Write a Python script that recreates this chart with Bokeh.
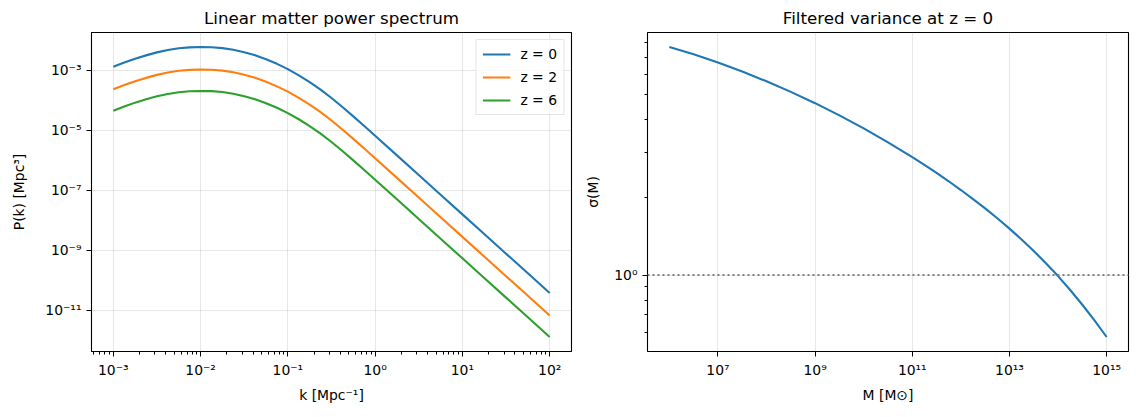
import math

from bokeh.plotting import figure
from bokeh.layouts import row
from bokeh.models import (Range1d, FixedTicker, CustomJSTickFormatter, Span,
                          Legend, LegendItem)
from bokeh.embed import file_html
from bokeh.resources import INLINE

# ---- linear matter power spectrum P(k) [Mpc^3] at three redshifts ----
k = [1.000e-3, 1.334e-3, 1.778e-3, 2.371e-3, 3.162e-3, 4.217e-3, 5.623e-3, 7.499e-3,
     1.000e-2, 1.334e-2, 1.778e-2, 2.371e-2, 3.162e-2, 4.217e-2, 5.623e-2, 7.499e-2,
     1.000e-1, 1.334e-1, 1.778e-1, 2.371e-1, 3.162e-1, 4.217e-1, 5.623e-1, 7.499e-1,
     1.000, 1.778, 3.162, 5.623, 10.0, 17.78, 31.62, 56.23, 100.0]

pk_z0 = [1.288e-3, 1.778e-3, 2.399e-3, 3.090e-3, 3.890e-3, 4.677e-3, 5.309e-3, 5.715e-3,
         5.875e-3, 5.794e-3, 5.395e-3, 4.742e-3, 3.945e-3, 3.097e-3, 2.301e-3, 1.614e-3,
         1.072e-3, 6.699e-4, 3.972e-4, 2.218e-4, 1.172e-4, 5.875e-5, 2.858e-5, 1.371e-5,
         6.486e-6, 1.436e-6, 3.177e-7, 7.031e-8, 1.556e-8, 3.443e-9, 7.621e-10, 1.687e-10,
         3.715e-11]

pk_z2 = [2.290e-4, 3.161e-4, 4.265e-4, 5.494e-4, 6.916e-4, 8.316e-4, 9.439e-4, 1.016e-3,
         1.045e-3, 1.030e-3, 9.592e-4, 8.431e-4, 7.014e-4, 5.506e-4, 4.091e-4, 2.870e-4,
         1.906e-4, 1.191e-4, 7.062e-5, 3.944e-5, 2.084e-5, 1.045e-5, 5.082e-6, 2.438e-6,
         1.153e-6, 2.553e-7, 5.649e-8, 1.250e-8, 2.767e-9, 6.122e-10, 1.355e-10, 2.999e-11,
         6.605e-12]

pk_z6 = [4.415e-5, 6.095e-5, 8.224e-5, 1.059e-4, 1.333e-4, 1.603e-4, 1.820e-4, 1.959e-4,
         2.014e-4, 1.986e-4, 1.849e-4, 1.626e-4, 1.352e-4, 1.062e-4, 7.888e-5, 5.533e-5,
         3.675e-5, 2.296e-5, 1.362e-5, 7.603e-6, 4.018e-6, 2.014e-6, 9.797e-7, 4.700e-7,
         2.223e-7, 4.923e-8, 1.089e-8, 2.410e-9, 5.334e-10, 1.180e-10, 2.612e-11, 5.783e-12,
         1.273e-12]

series_labels = ["z = 0", "z = 2", "z = 6"]
series_colors = ["#1f77b4", "#ff7f0e", "#2ca02c"]

# ---- filtered variance sigma(M) at z = 0 ----
mass = [1.000e6, 3.162e6, 1.000e7, 3.162e7, 1.000e8, 3.162e8, 1.000e9, 3.162e9,
        1.000e10, 3.162e10, 1.000e11, 1.778e11, 3.162e11, 5.623e11, 1.000e12,
        1.778e12, 3.162e12, 5.623e12, 1.000e13, 1.778e13, 3.162e13, 5.623e13,
        1.000e14, 1.778e14, 3.162e14, 5.623e14, 1.000e15]
sigma = [7.674, 7.186, 6.683, 6.166, 5.649, 5.140, 4.645, 4.164, 3.707, 3.273,
         2.871, 2.679, 2.492, 2.312, 2.138, 1.972, 1.814, 1.662, 1.514, 1.374,
         1.240, 1.112, 0.991, 0.875, 0.767, 0.667, 0.575]

FONT = "DejaVu Sans"
TICK_PX = "13.9px"
TITLE_PX = "16.7px"
GRID_COLOR = "#b0b0b0"

SUPER_FMT = CustomJSTickFormatter(code="""
    const sup = {'-': '\u207b', '0': '\u2070', '1': '\u00b9', '2': '\u00b2', '3': '\u00b3',
                 '4': '\u2074', '5': '\u2075', '6': '\u2076', '7': '\u2077', '8': '\u2078',
                 '9': '\u2079'};
    const e = Math.round(Math.log10(tick));
    return '10' + String(e).split('').map(c => sup[c]).join('');
""")


def log_range(values, pad=0.05):
    lo = math.log10(min(values))
    hi = math.log10(max(values))
    span = hi - lo
    return Range1d(10 ** (lo - pad * span), 10 ** (hi + pad * span))


def style(p, xlabel, ylabel, ylabel_standoff):
    p.title.text_font = FONT
    p.title.text_font_size = TITLE_PX
    p.title.text_font_style = "normal"
    p.title.align = "center"
    p.title.text_color = "black"
    p.outline_line_color = "black"
    p.outline_line_width = 1.1
    p.outline_line_alpha = 1.0
    p.background_fill_color = "white"
    p.border_fill_color = "white"
    for ax in (p.xaxis[0], p.yaxis[0]):
        ax.axis_line_color = None
        ax.major_tick_in = 0
        ax.major_tick_out = 5
        ax.minor_tick_in = 0
        ax.minor_tick_out = 3
        ax.major_tick_line_color = "black"
        ax.minor_tick_line_color = "black"
        ax.major_tick_line_width = 1
        ax.minor_tick_line_width = 1
        ax.major_label_text_font = FONT
        ax.major_label_text_font_size = TICK_PX
        ax.major_label_text_color = "black"
        ax.major_label_standoff = 5
        ax.axis_label_text_font = FONT
        ax.axis_label_text_font_size = TICK_PX
        ax.axis_label_text_font_style = "normal"
        ax.axis_label_text_color = "black"
        ax.axis_label_standoff = 6
        ax.formatter = SUPER_FMT
    p.xaxis[0].axis_label = xlabel
    p.yaxis[0].axis_label = ylabel
    p.yaxis[0].axis_label_standoff = ylabel_standoff
    for g in (p.xgrid[0], p.ygrid[0]):
        g.grid_line_color = GRID_COLOR
        g.grid_line_alpha = 0.3
        g.grid_line_width = 1.1


def decade_minors(lo_exp, hi_exp):
    return [m * 10.0 ** e for e in range(lo_exp, hi_exp + 1) for m in range(2, 10)]


# ---------------- left panel: P(k) ----------------
p1 = figure(width=580, height=417, x_axis_type="log", y_axis_type="log",
            x_range=log_range(k), y_range=log_range(pk_z0 + pk_z2 + pk_z6),
            title="Linear matter power spectrum",
            output_backend="svg", toolbar_location=None,
            min_border_left=91, min_border_right=9,
            min_border_top=32, min_border_bottom=66)
style(p1, "k [Mpc\u207b\u00b9]", "P(k) [Mpc\u00b3]", 15)
p1.xaxis[0].ticker = FixedTicker(ticks=[10.0 ** e for e in range(-3, 3)],
                                 minor_ticks=decade_minors(-4, 2))
p1.yaxis[0].ticker = FixedTicker(ticks=[10.0 ** e for e in range(-11, -2, 2)],
                                 minor_ticks=[])

items = []
for vals, lab, col in zip([pk_z0, pk_z2, pk_z6], series_labels, series_colors):
    r = p1.line(k, vals, line_color=col, line_width=2.1)
    items.append(LegendItem(label=lab, renderers=[r]))

legend = Legend(items=items, location="top_right")
legend.margin = 7
legend.padding = 6
legend.spacing = 7
legend.glyph_width = 28
legend.glyph_height = 16
legend.label_height = 16
legend.label_standoff = 10
legend.label_text_font = FONT
legend.label_text_font_size = TICK_PX
legend.label_text_color = "black"
legend.border_line_color = "#cccccc"
legend.border_line_width = 1
legend.background_fill_color = "white"
legend.background_fill_alpha = 0.8
p1.add_layout(legend)

# ---------------- right panel: sigma(M) ----------------
p2 = figure(width=556, height=417, x_axis_type="log", y_axis_type="log",
            x_range=log_range(mass), y_range=log_range(sigma),
            title="Filtered variance at z = 0",
            output_backend="svg", toolbar_location=None,
            min_border_left=67, min_border_right=8,
            min_border_top=32, min_border_bottom=66)
style(p2, "M [M\u2299]", "\u03c3(M)", 10)
p2.xaxis[0].ticker = FixedTicker(ticks=[10.0 ** e for e in range(7, 16, 2)],
                                 minor_ticks=[])
p2.yaxis[0].ticker = FixedTicker(ticks=[1.0],
                                 minor_ticks=[0.6, 0.7, 0.8, 0.9, 2, 3, 4, 5, 6, 7, 8])

p2.line(mass, sigma, line_color="#1f77b4", line_width=2.1)
p2.add_layout(Span(location=1.0, dimension="width", line_color="gray",
                   line_width=2, line_dash="2 3"))

layout = row(p1, p2)
open("out.html", "w").write(file_html(layout, INLINE))
